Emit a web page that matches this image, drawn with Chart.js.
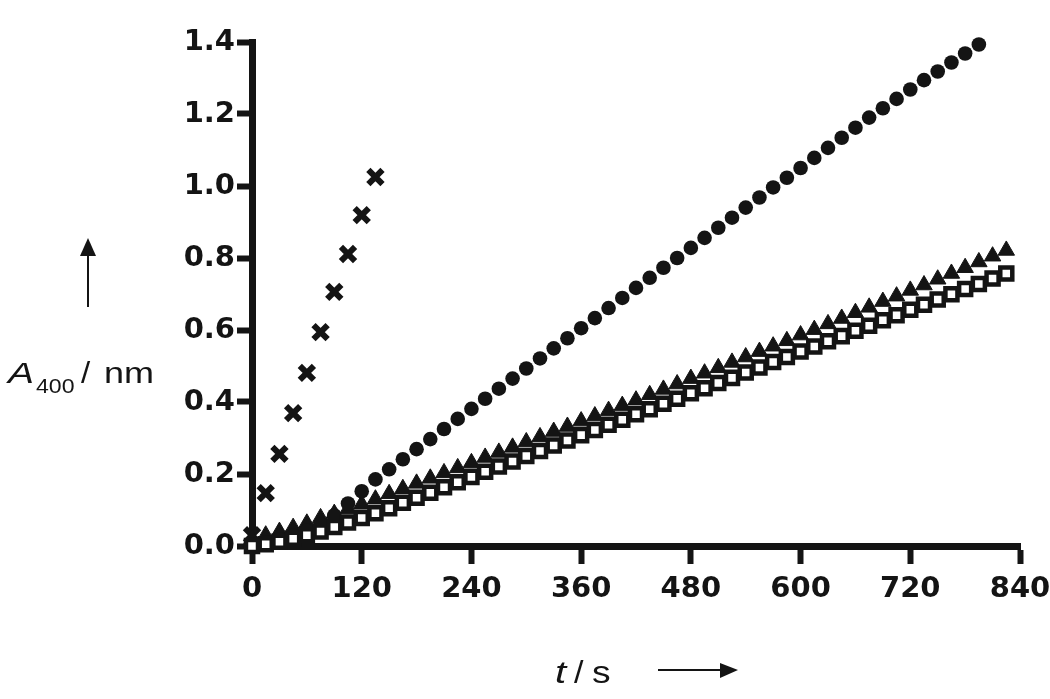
<!DOCTYPE html>
<html lang="en">
<head>
<meta charset="utf-8"/>
<title>A400 vs t</title>
<script src="https://cdn.jsdelivr.net/npm/chart.js"></script>
<style>
    body { margin: 0; background: #fff; }
    canvas { display: block; }
</style>
</head>
<body>
<canvas id="kinChart" width="1050" height="699"></canvas>
<script>
    // sampling times (s), one reading every 15 s
    const times = [0, 15, 30, 45, 60, 75, 90, 105, 120, 135, 150, 165, 180, 195, 210, 225, 240, 255, 270, 285,
        300, 315, 330, 345, 360, 375, 390, 405, 420, 435, 450, 465, 480, 495, 510, 525, 540, 555, 570, 585,
        600, 615, 630, 645, 660, 675, 690, 705, 720, 735, 750, 765, 780, 795, 810, 825];

    const xTicks = [0, 120, 240, 360, 480, 600, 720, 840];
    const yTicks = [0.0, 0.2, 0.4, 0.6, 0.8, 1.0, 1.2, 1.4];

    // absorbance readings per series
    const crossVals = [0.03, 0.147, 0.256, 0.369, 0.481, 0.594, 0.706, 0.811, 0.919, 1.025];
    const circleVals = [0.005, 0.01, 0.018, 0.028, 0.042, 0.06, 0.085, 0.118, 0.152, 0.185,
        0.213, 0.241, 0.269, 0.297, 0.325, 0.353, 0.381, 0.409, 0.437, 0.465,
        0.493, 0.521, 0.549, 0.577, 0.605, 0.633, 0.661, 0.689, 0.717, 0.745,
        0.773, 0.8, 0.828, 0.856, 0.884, 0.912, 0.94, 0.968, 0.996, 1.023,
        1.05, 1.078, 1.106, 1.134, 1.162, 1.19, 1.216, 1.242, 1.268, 1.294,
        1.318, 1.343, 1.368, 1.393];
    const triangleVals = [0.02, 0.03, 0.04, 0.051, 0.063, 0.078, 0.09, 0.103, 0.116, 0.13,
        0.145, 0.159, 0.174, 0.188, 0.203, 0.217, 0.231, 0.246, 0.26, 0.274,
        0.289, 0.303, 0.318, 0.332, 0.347, 0.361, 0.376, 0.39, 0.405, 0.42,
        0.435, 0.45, 0.465, 0.48, 0.495, 0.51, 0.525, 0.54, 0.555, 0.57,
        0.586, 0.601, 0.617, 0.632, 0.648, 0.663, 0.679, 0.694, 0.71, 0.725,
        0.741, 0.757, 0.773, 0.789, 0.805, 0.821];
    const squareVals = [0.0, 0.005, 0.012, 0.02, 0.03, 0.04, 0.053, 0.065, 0.078, 0.091,
        0.105, 0.12, 0.134, 0.148, 0.163, 0.177, 0.192, 0.206, 0.221, 0.235,
        0.25, 0.264, 0.279, 0.293, 0.308, 0.322, 0.337, 0.351, 0.366, 0.38,
        0.395, 0.409, 0.424, 0.438, 0.453, 0.467, 0.482, 0.496, 0.511, 0.525,
        0.54, 0.554, 0.569, 0.583, 0.598, 0.612, 0.627, 0.641, 0.656, 0.67,
        0.685, 0.699, 0.714, 0.728, 0.743, 0.757];

    const ink = '#141414';
    const toPoints = vals => vals.map((v, i) => ({ x: times[i], y: v }));

    // axis titles and arrows, drawn with a slight horizontal stretch like the figure
    const titlesPlugin = {
        id: 'titles',
        afterDraw(chart) {
            const ctx = chart.ctx;
            const piece = (txt, x, y, font, sx) => {
                ctx.save();
                ctx.translate(x, y);
                ctx.scale(sx, 1);
                ctx.font = font;
                ctx.fillStyle = ink;
                ctx.textBaseline = 'alphabetic';
                ctx.fillText(txt, 0, 0);
                ctx.restore();
            };
            const sans = '"Liberation Sans", Arial, sans-serif';

            // y title: A400 / nm
            piece('A', 8, 383, 'italic 30px ' + sans, 1.3);
            piece('400', 36, 393, '21px ' + sans, 1.1);
            piece('/', 81, 383, '30px ' + sans, 1.1);
            piece('nm', 104, 383, '30px ' + sans, 1.2);

            // x title: t / s
            piece('t', 555, 683, 'italic 31px ' + sans, 1.3);
            piece('/', 574, 683, '31px ' + sans, 1.1);
            piece('s', 592, 683, '31px ' + sans, 1.2);

            ctx.save();
            ctx.strokeStyle = ink;
            ctx.fillStyle = ink;
            ctx.lineWidth = 2;
            // up arrow
            ctx.beginPath();
            ctx.moveTo(88, 307);
            ctx.lineTo(88, 252);
            ctx.stroke();
            ctx.beginPath();
            ctx.moveTo(88, 238);
            ctx.lineTo(80, 256);
            ctx.lineTo(96, 256);
            ctx.closePath();
            ctx.fill();
            // right arrow
            ctx.beginPath();
            ctx.moveTo(658, 670);
            ctx.lineTo(724, 670);
            ctx.stroke();
            ctx.beginPath();
            ctx.moveTo(738, 670);
            ctx.lineTo(720, 663);
            ctx.lineTo(720, 678);
            ctx.closePath();
            ctx.fill();
            ctx.restore();
        }
    };

    const tickFont = { family: '"DejaVu Sans", sans-serif', size: 29, weight: 'bold' };

    new Chart(document.getElementById('kinChart'), {
        type: 'scatter',
        data: {
            datasets: [
                {
                    label: 'squares',
                    data: toPoints(squareVals),
                    pointStyle: 'rect',
                    pointRadius: 8.5,
                    backgroundColor: '#fff',
                    borderColor: ink,
                    borderWidth: 4.5,
                    clip: false,
                    order: 0
                },
                {
                    label: 'circles',
                    data: toPoints(circleVals),
                    pointStyle: 'circle',
                    pointRadius: 7.3,
                    backgroundColor: ink,
                    borderColor: ink,
                    borderWidth: 0,
                    clip: false,
                    order: 1
                },
                {
                    label: 'triangles',
                    data: toPoints(triangleVals),
                    pointStyle: 'triangle',
                    pointRadius: 9.5,
                    backgroundColor: ink,
                    borderColor: ink,
                    borderWidth: 1,
                    clip: false,
                    order: 2
                },
                {
                    label: 'crosses',
                    data: toPoints(crossVals),
                    pointStyle: 'crossRot',
                    pointRadius: 10,
                    backgroundColor: ink,
                    borderColor: ink,
                    borderWidth: 6,
                    clip: false,
                    order: 3
                }
            ]
        },
        options: {
            responsive: false,
            animation: false,
            layout: { padding: { top: 42, right: 7, left: 0, bottom: 0 } },
            plugins: {
                legend: { display: false },
                tooltip: { enabled: false }
            },
            scales: {
                x: {
                    type: 'linear',
                    min: 0,
                    max: 840,
                    afterFit(scale) {
                        scale.height = 153;
                        scale.paddingRight = 30;
                    },
                    afterBuildTicks(scale) { scale.ticks = xTicks.map(v => ({ value: v })); },
                    border: { display: true, color: ink, width: 7 },
                    grid: { drawOnChartArea: false, drawTicks: true, tickLength: 18, tickWidth: 6, tickColor: ink },
                    ticks: {
                        padding: 8,
                        color: ink,
                        font: tickFont,
                        maxRotation: 0,
                        autoSkip: false
                    }
                },
                y: {
                    min: 0,
                    max: 1.4,
                    afterFit(scale) { scale.width = 252; },
                    afterBuildTicks(scale) { scale.ticks = yTicks.map(v => ({ value: v })); },
                    border: { display: true, color: ink, width: 7 },
                    grid: { drawOnChartArea: false, drawTicks: true, tickLength: 15, tickWidth: 6, tickColor: ink },
                    ticks: {
                        padding: 2,
                        color: ink,
                        font: tickFont,
                        callback: v => v.toFixed(1),
                        autoSkip: false
                    }
                }
            }
        },
        plugins: [titlesPlugin]
    });
</script>
</body>
</html>
